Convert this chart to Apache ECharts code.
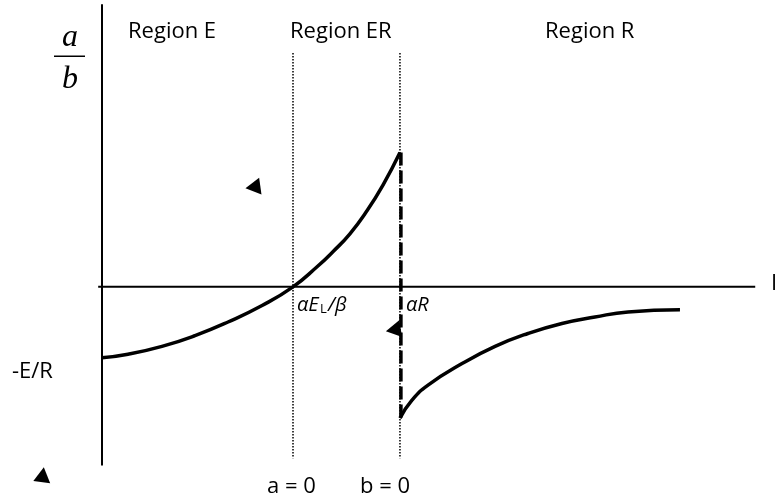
<!DOCTYPE html>
<html>
<head>
<meta charset="utf-8">
<script src="https://cdn.jsdelivr.net/npm/echarts@6/dist/echarts.min.js"></script>
<style>html,body{margin:0;padding:0;background:#fff}#c{width:775px;height:502px}</style>
</head>
<body>
<div id="c"></div>
<script>
// ---- data (I on x, a/b on y; aE_L/beta = 1, -E/R = -1) ----
const leftCurveX  = [0, 0.136, 0.314, 0.487, 0.660, 0.838, 1.0, 1.126, 1.209, 1.298, 1.387, 1.471, 1.560];
const leftCurveY  = [-0.99, -0.94, -0.83, -0.68, -0.49, -0.26, 0, 0.28, 0.49, 0.74, 1.06, 1.42, 1.875];
const rightCurveX = [1.560, 1.623, 1.707, 1.885, 2.058, 2.230, 2.408, 2.581, 2.754, 3.026];
const rightCurveY = [-1.83, -1.58, -1.37, -1.07, -0.83, -0.65, -0.51, -0.42, -0.35, -0.32];
const jumpX = [1.565, 1.565];
const jumpY = [1.875, -1.83];
const boundaryX = [1.0, 1.56];          // a = 0, b = 0
const boundaryY = [3.26, -2.39];
const xAxisLineX = [-0.02, 3.42];
const yAxisLineY = [3.94, -2.49];
const arrowX = [0.79, 1.525, -0.31];
const arrowY = [1.39, -0.60, -2.62];
const arrowRot = [98, 100, -8];
const regionLabels = ['Region E', 'Region ER', 'Region R'];
const bottomLabels = ['a = 0', 'b = 0'];

const zip = (xs, ys) => xs.map((x, i) => [x, ys[i]]);
const FONT = '"Open Sans", "Liberation Sans", sans-serif';
const black = '#000';

const series = [];
// axes drawn as lines
series.push({type:'line', data: zip(xAxisLineX, [0,0]), symbol:'none', lineStyle:{color:black, width:2}, silent:true});
series.push({type:'line', data: zip([0,0], yAxisLineY), symbol:'none', lineStyle:{color:black, width:2}, silent:true});
// dotted boundaries
boundaryX.forEach(bx => series.push({type:'line', data: zip([bx,bx], boundaryY), symbol:'none',
  lineStyle:{color:black, width:1.5, type:[1.5,1.5]}, silent:true}));
// curves
series.push({type:'line', data: zip(leftCurveX, leftCurveY), symbol:'none', smooth:true,
  lineStyle:{color:black, width:3.5}, silent:true});
series.push({type:'line', data: zip(rightCurveX, rightCurveY), symbol:'none', smooth:true,
  lineStyle:{color:black, width:3.5}, silent:true});
// dashed jump
series.push({type:'line', data: zip(jumpX, jumpY), symbol:'none',
  lineStyle:{color:black, width:3.5, type:[13,5]}, silent:true});
// arrowheads
series.push({type:'scatter', data: arrowX.map((x,i)=>({value:[x, arrowY[i]], symbolRotate: arrowRot[i]})),
  symbol:'triangle', symbolSize:[17,15], itemStyle:{color:black, opacity:1}, silent:true});

const txt = (text, x, y, size, opts={}) => Object.assign({type:'text', x, y, silent:true,
  style: Object.assign({text, fontSize:size, fontFamily:FONT, fill:'#000', align:'left', verticalAlign:'middle'}, opts)});

const graphic = [
  txt(regionLabels[0], 128, 32, 22),
  txt(regionLabels[1], 290, 32, 22),
  txt(regionLabels[2], 545, 32, 22),
  txt('I', 771, 284, 22),
  txt('-E/R', 12, 372, 22),
  txt(bottomLabels[0], 267, 487, 22),
  txt(bottomLabels[1], 360, 487, 22),
  txt('αE', 297, 305, 20, {fontStyle:'italic'}),
  txt('L', 320, 309, 13, {fontStyle:'normal'}),
  txt('/β', 328, 305, 20, {fontStyle:'italic'}),
  txt('αR', 406, 305, 20, {fontStyle:'italic'}),
  txt('a', 70, 38, 32, {fontStyle:'italic', fontFamily:'"Liberation Serif", "DejaVu Serif", serif', align:'center'}),
  {type:'rect', shape:{x:54, y:55.5, width:31, height:1.5}, style:{fill:'#000'}, silent:true},
  txt('b', 70, 80, 32, {fontStyle:'italic', fontFamily:'"Liberation Serif", "DejaVu Serif", serif', align:'center'})
];

const chart = echarts.init(document.getElementById('c'), null, {renderer:'canvas'});
chart.setOption({
  animation:false,
  backgroundColor:'#fff',
  grid:{left:6.5, width:764, top:0, height:504, containLabel:false},
  xAxis:{type:'value', min:-0.5, max:3.5, show:false},
  yAxis:{type:'value', min:-3, max:4, show:false},
  series,
  graphic
});
</script>
</body>
</html>
